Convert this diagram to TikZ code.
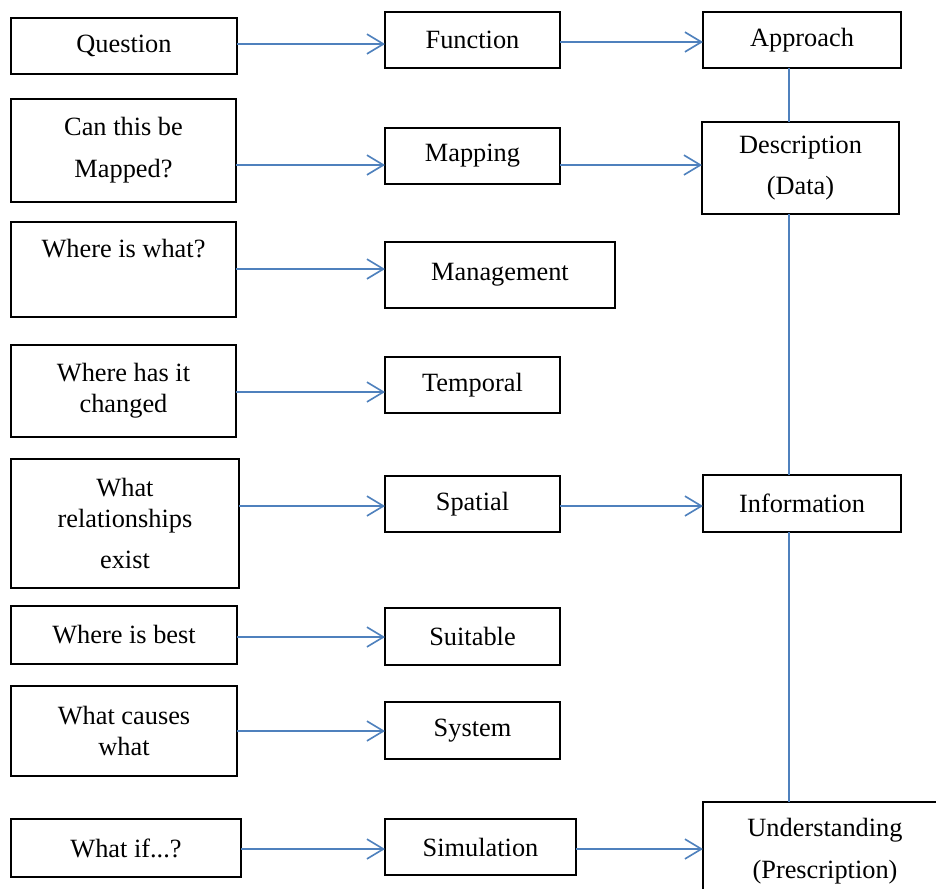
\documentclass[tikz,border=0pt]{standalone}
\usepackage{fontspec}
\setmainfont{Liberation Serif}
\usepackage{tikz}
\usetikzlibrary{arrows.meta}

\definecolor{linkblue}{RGB}{79,129,189}

\begin{document}
\begin{tikzpicture}[x=0.016cm, y=-0.016cm,
    box/.style={draw, line width=0.8pt, inner sep=0pt, outer sep=0pt, align=center, font=\fontsize{12}{14.2}\selectfont},
    link/.style={linkblue, line width=0.75pt, -{Straight Barb[length=7.5pt,width=9pt]}},
    bar/.style={linkblue, line width=0.75pt}]

  \def\u{0.016cm};

  \useasboundingbox (0,0) rectangle (936,888);

  %questions
  \foreach \name/\x/\y/\w/\h/\txt in {q1/11/18/226/56/Question,
        q2/11/99/225/103/{Can this be\\[4.8pt]Mapped?},
        q3/11/222/225/95/{Where is what?\\[4.8pt]\mbox{}},
        q4/11/345/225/92/{Where has it\\changed},
        q5/11/459/228/129/{What\\relationships\\[4.8pt]exist},
        q6/11/606/226/58/{Where is best},
        q7/11/686/226/90/{What causes\\what},
        q8/11/819/230/58/{What if...?}}{
      \node[box, minimum width=\w*\u, minimum height=\h*\u] (\name) at (\x+\w/2, \y+\h/2) {\txt};
  }

  %functions
  \foreach \name/\x/\y/\w/\h/\txt in {f1/385/12/175/56/Function,
        f2/385/128/175/56/Mapping,
        f3/385/242/230/66/Management,
        f4/385/357/175/56/Temporal,
        f5/385/476/175/56/Spatial,
        f6/385/608/175/57/Suitable,
        f7/385/702/175/57/System,
        f8/385/819/191/56/Simulation}{
      \node[box, minimum width=\w*\u, minimum height=\h*\u] (\name) at (\x+\w/2, \y+\h/2) {\txt};
  }

  %approach
  \foreach \name/\x/\y/\w/\h/\txt in {a1/703/12/198/56/Approach,
        a2/702/122/197/92/{Description\\[4.8pt](Data)},
        a3/703/475/198/57/Information,
        a4/703/802/244/98/{Understanding\\[4.8pt](Prescription)}}{
      \node[box, minimum width=\w*\u, minimum height=\h*\u] (\name) at (\x+\w/2, \y+\h/2) {\txt};
  }

  %arrows
  \foreach \a/\b/\yy in {q1/f1/44, q2/f2/165, q3/f3/269, q4/f4/392, q5/f5/506, q6/f6/637,
        q7/f7/731, q8/f8/849, f1/a1/42, f2/a2/165, f5/a3/506, f8/a4/849}{
      \draw[link] (\a.east |- 0,\yy) -- (\b.west |- 0,\yy);
  }

  \foreach \a/\b in {a1/a2, a2/a3, a3/a4}{
      \draw[bar] (\a.south -| 789,0) -- (\b.north -| 789,0);
  }

\end{tikzpicture}
\end{document}
